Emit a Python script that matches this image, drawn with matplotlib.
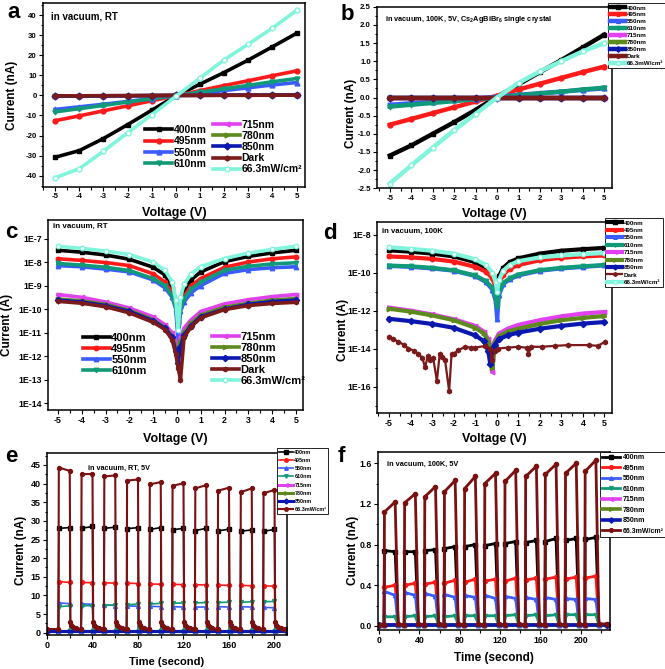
import numpy as np
import matplotlib
matplotlib.use('Agg')
import matplotlib.pyplot as plt
from matplotlib.ticker import MultipleLocator, FixedLocator, FuncFormatter, NullLocator, NullFormatter

plt.rcParams['font.family'] = ['Liberation Sans', 'DejaVu Sans']
plt.rcParams['font.weight'] = 'bold'
plt.rcParams['axes.labelweight'] = 'bold'
plt.rcParams['axes.unicode_minus'] = False
plt.rcParams['mathtext.fontset'] = 'custom'
plt.rcParams['mathtext.rm'] = 'Liberation Sans:bold'
plt.rcParams['mathtext.it'] = 'Liberation Sans:bold'
plt.rcParams['mathtext.default'] = 'rm'

# ---- series info ----
labels = ['400nm', '495nm', '550nm', '610nm', '715nm', '780nm', '850nm', 'Dark', '66.3mW/cm²']
colors = ['black', '#ff1a1a', '#3a5cff', '#109a78', '#e040f0', '#5d8a1c', '#0a18b0', '#7a1a1a', '#7ff5dc']
markers = ['s', 'o', '^', 'v', '<', '>', 'D', 'h', 'o']

# ---- (a) I-V, RT, nA ----
a_volt = [-5, -4, -3, -2, -1, 0, 1, 2, 3, 4, 5]
a_curr = [
    [-30.8, -27.5, -21.5, -14.6, -7.4, -0.3, 5.6, 11.4, 17.6, 24.2, 30.9],   # 400
    [-12.6, -10.2, -7.7, -5.2, -2.7, -0.2, 2.4, 4.9, 7.3, 9.8, 12.2],       # 495
    [-7.0, -5.7, -4.4, -3.0, -1.6, -0.2, 1.1, 2.4, 3.8, 5.2, 6.4],          # 550
    [-8.2, -6.6, -5.0, -3.3, -1.7, -0.1, 1.6, 3.3, 5.0, 6.8, 8.4],          # 610
    [-0.4, -0.35, -0.3, -0.2, -0.1, 0.0, 0.1, 0.15, 0.2, 0.25, 0.3],        # 715
    [-0.3, -0.3, -0.25, -0.2, -0.1, 0.0, 0.05, 0.1, 0.15, 0.2, 0.25],       # 780
    [-0.3, -0.25, -0.2, -0.15, -0.1, 0.0, 0.05, 0.1, 0.1, 0.15, 0.2],       # 850
    [-0.2, -0.2, -0.15, -0.1, -0.05, 0.0, 0.0, 0.05, 0.05, 0.1, 0.1],       # Dark
    [-41.0, -36.5, -27.8, -18.7, -9.6, -0.5, 8.6, 17.7, 25.5, 33.5, 42.3],  # 66.3
]

# ---- (b) I-V, 100K, nA ----
b_volt = [-5, -4, -3, -2, -1, 0, 1, 2, 3, 4, 5]
b_curr = [
    [-1.60, -1.32, -1.00, -0.68, -0.34, 0.02, 0.36, 0.70, 1.03, 1.38, 1.73],
    [-0.75, -0.59, -0.43, -0.27, -0.11, 0.05, 0.22, 0.38, 0.54, 0.70, 0.85],
    [-0.20, -0.16, -0.12, -0.07, -0.03, 0.02, 0.07, 0.12, 0.16, 0.21, 0.25],
    [-0.25, -0.20, -0.15, -0.10, -0.05, 0.00, 0.06, 0.11, 0.16, 0.22, 0.27],
    [0.0, 0.0, 0.0, 0.0, 0.0, 0.0, 0.0, 0.0, 0.0, 0.0, 0.0],
    [0.0, 0.0, 0.0, 0.0, 0.0, 0.0, 0.0, 0.0, 0.0, 0.0, 0.0],
    [0.0, 0.0, 0.0, 0.0, 0.0, 0.0, 0.0, 0.0, 0.0, 0.0, 0.0],
    [0.0, 0.0, 0.0, 0.0, 0.0, 0.0, 0.0, 0.0, 0.0, 0.0, 0.0],
    [-2.37, -1.87, -1.38, -0.90, -0.45, 0.00, 0.40, 0.72, 1.00, 1.27, 1.50],
]

# ---- (c) log|I|, RT (log10 of A) ----
c_volt = [-5, -4, -3, -2, -1, -0.5, -0.2, -0.05, 0.05, 0.15, 0.3, 0.6, 1, 2, 3, 4, 5]
c_log = [
    [-7.50, -7.58, -7.70, -7.88, -8.22, -8.55, -9.10, -9.60, -10.6, -9.70, -9.20, -8.75, -8.42, -7.98, -7.76, -7.61, -7.50],
    [-7.86, -7.93, -8.02, -8.15, -8.50, -8.85, -9.30, -9.80, -10.5, -9.90, -9.45, -9.00, -8.70, -8.22, -8.00, -7.86, -7.78],
    [-8.15, -8.20, -8.30, -8.42, -8.76, -9.10, -9.50, -10.0, -11.3, -10.1, -9.70, -9.30, -9.00, -8.48, -8.32, -8.24, -8.20],
    [-8.06, -8.13, -8.22, -8.36, -8.70, -9.00, -9.45, -9.90, -10.8, -10.0, -9.55, -9.15, -8.85, -8.35, -8.18, -8.08, -8.03],
    [-9.38, -9.50, -9.70, -9.95, -10.33, -10.66, -11.0, -11.4, -11.6, -11.2, -10.8, -10.45, -10.1, -9.78, -9.60, -9.47, -9.38],
    [-9.57, -9.65, -9.80, -10.05, -10.45, -10.78, -11.15, -11.6, -11.8, -11.4, -11.0, -10.6, -10.25, -9.92, -9.75, -9.62, -9.55],
    [-9.62, -9.70, -9.85, -10.10, -10.50, -10.82, -11.2, -11.8, -12.3, -11.6, -11.1, -10.7, -10.32, -10.0, -9.80, -9.68, -9.62],
    [-9.67, -9.75, -9.90, -10.16, -10.56, -10.87, -11.3, -11.9, -12.5, -13.0, -11.2, -10.75, -10.37, -10.02, -9.85, -9.76, -9.71],
    [-7.33, -7.42, -7.53, -7.68, -8.00, -8.35, -8.85, -9.60, -10.9, -9.50, -8.95, -8.50, -8.20, -7.85, -7.62, -7.46, -7.33],
]

# ---- (d) log|I|, 100K (log10 of A) ----
d_volt_hi = [-5, -4, -3, -2, -1, -0.5, -0.2, -0.05, 0.02, 0.1, 0.3, 0.6, 1, 2, 3, 4, 5]
d_volt_lo = [-5, -4, -3, -2, -1, -0.6, -0.4, -0.3, -0.2, -0.1, 0.1, 0.5, 1, 2, 3, 4, 5]
d_log = [
    [-8.83, -8.90, -9.00, -9.15, -9.45, -9.75, -10.1, -10.6, -11.0, -10.2, -9.75, -9.45, -9.25, -9.00, -8.85, -8.77, -8.70],
    [-9.15, -9.20, -9.28, -9.42, -9.70, -9.95, -10.3, -10.8, -11.3, -10.6, -10.1, -9.80, -9.60, -9.35, -9.22, -9.15, -9.10],
    [-9.65, -9.70, -9.78, -9.90, -10.18, -10.5, -10.9, -11.5, -12.45, -11.2, -10.6, -10.35, -10.15, -9.90, -9.78, -9.70, -9.62],
    [-9.63, -9.67, -9.75, -9.88, -10.15, -10.45, -10.8, -11.3, -11.8, -11.0, -10.55, -10.3, -10.1, -9.87, -9.75, -9.67, -9.60],
    [-11.84, -12.0, -12.2, -12.45, -12.8, -13.1, -13.5, -13.8, -15.2, -13.6, -13.2, -12.95, -12.75, -12.5, -12.3, -12.15, -12.07],
    [-11.9, -12.05, -12.25, -12.5, -12.9, -13.2, -13.6, -14.0, -15.0, -13.7, -13.35, -13.1, -12.95, -12.7, -12.5, -12.38, -12.28],
    [-12.43, -12.55, -12.7, -12.9, -13.3, -13.6, -14.1, -14.8, -14.0, -13.8, -13.5, -13.3, -13.15, -12.95, -12.8, -12.68, -12.6],
    None,
    [-8.67, -8.75, -8.85, -9.00, -9.30, -9.60, -10.0, -10.5, -11.0, -10.4, -9.90, -9.60, -9.40, -9.20, -9.10, -9.03, -8.97],
]
d_dark_volt = [-5, -4.8, -4.57, -4.3, -4.1, -3.85, -3.64, -3.45, -3.33, -3.2, -3.1, -2.95, -2.78, -2.65, -2.55,
               -2.4, -2.21, -2.1, -2.0, -1.78, -1.47, -1.2, -1.0, -0.54, -0.3, -0.23, -0.1, 0.08, 0.54,
               1.0, 1.4, 1.47, 1.6, 2.09, 2.7, 3.33, 4.26, 4.7, 5.03]
d_dark_log = [-13.36, -13.5, -13.63, -13.8, -13.99, -14.1, -14.26, -14.5, -14.97, -14.4, -14.62, -14.5, -15.69,
              -14.3, -14.44, -14.6, -16.23, -14.3, -14.26, -14.08, -13.9, -13.95, -13.94, -13.86, -14.0, -14.62,
              -14.1, -13.99, -13.94, -13.9, -13.95, -14.26, -13.9, -13.9, -13.85, -13.81, -13.81, -13.85, -13.63]

# ---- (e) on/off, RT, 5V, nA ----
e_labels = ['400nm', '495nm', '550nm', '610nm', '715nm', '780nm', '850nm', '66.3mW/cm²']
e_colors = ['black', '#ff1a1a', '#3a5cff', '#109a78', '#e040f0', '#5d8a1c', '#0a18b0', '#7a1010']
e_t_on = [10, 30, 50, 70, 90, 110, 130, 150, 170, 190]
e_t_off = [20, 40, 60, 80, 100, 120, 140, 160, 180, 200]
e_start = [
    [28.0, 28.0, 28.0, 27.9, 27.7, 27.6, 27.4, 27.3, 27.2, 27.2],
    [13.7, 13.5, 13.4, 13.3, 13.1, 13.0, 12.9, 12.8, 12.7, 12.6],
    [8.0, 7.8, 7.5, 7.2, 7.1, 7.0, 6.9, 7.0, 7.0, 6.8],
    [7.0, 7.2, 7.3, 7.5, 7.7, 7.9, 8.0, 8.1, 8.2, 8.3],
]
e_end = [
    [28.2, 28.5, 28.3, 28.2, 28.2, 28.0, 28.0, 27.8, 27.6, 27.7],
    [13.5, 13.4, 13.3, 13.2, 13.0, 12.9, 12.8, 12.7, 12.6, 12.5],
    [7.8, 7.6, 7.3, 7.1, 7.0, 6.9, 6.9, 6.9, 6.9, 6.7],
    [7.2, 7.3, 7.5, 7.7, 7.9, 8.0, 8.1, 8.2, 8.3, 8.4],
]
e_base = [0.6, 0.6, 0.4, 0.5]
e_flat_t = [0, 211]
e_flat = [[0.6, 0.6], [0.5, 0.5], [0.4, 0.4]]   # 715, 780, 850
e_white_start = [44.3, 42.5, 41.9, 40.8, 39.8, 39.4, 38.7, 38.1, 37.7, 37.4]
e_white_end = [43.4, 42.6, 42.2, 41.1, 40.4, 40.1, 39.6, 38.9, 38.7, 38.3]
e_white_base = 1.0
e_tail_dt = [0.6, 1.5, 3, 5.5, 9.5]
e_tail_i = [3.0, 2.1, 1.5, 1.2, 1.0]

# ---- (f) on/off, 100K, 5V, nA ----
f_t_on = [5, 25, 45, 64.5, 84.5, 104.5, 124.5, 145, 164.5, 184.5, 204]
f_t_off = [16, 36, 56, 75.5, 95.5, 115.5, 135.5, 156, 175.5, 195.5, 215]
f_start = [
    [0.74, 0.73, 0.74, 0.76, 0.78, 0.79, 0.81, 0.82, 0.83, 0.84, 0.85],
    [0.38, 0.40, 0.41, 0.42, 0.43, 0.44, 0.44, 0.45, 0.46, 0.46, 0.47],
    [0.34, 0.33, 0.32, 0.31, 0.30, 0.30, 0.29, 0.28, 0.28, 0.27, 0.27],
    [0.09, 0.09, 0.09, 0.09, 0.10, 0.10, 0.10, 0.10, 0.10, 0.11, 0.11],
]
f_end = [
    [0.73, 0.73, 0.75, 0.78, 0.80, 0.81, 0.83, 0.84, 0.86, 0.86, 0.87],
    [0.40, 0.42, 0.43, 0.45, 0.46, 0.46, 0.47, 0.47, 0.48, 0.48, 0.49],
    [0.30, 0.30, 0.29, 0.28, 0.28, 0.27, 0.27, 0.26, 0.26, 0.26, 0.26],
    [0.09, 0.10, 0.10, 0.10, 0.10, 0.10, 0.11, 0.11, 0.11, 0.11, 0.11],
]
f_flat_t = [0, 226]
f_flat = [[0.012, 0.012], [0.01, 0.01], [0.008, 0.008]]
f_white_start = [1.12, 1.21, 1.27, 1.32, 1.35, 1.40, 1.42, 1.47, 1.49, 1.50, 1.52]
f_white_end = [1.22, 1.30, 1.37, 1.43, 1.47, 1.50, 1.53, 1.57, 1.59, 1.60, 1.63]
f_base = 0.01
f_tail_dt = [3.0]
f_tail_i = [0.02]


def px(x):
    return x / 665.0


def py(y):
    return 1 - y / 669.0


def rect(l, t, r, b):
    return [px(l), py(b), px(r) - px(l), (b - t) / 669.0]


def pulse_train(t_on, t_off, top0, top1, base, tail_dt, tail_i, t_stop):
    t, y = [0.0], [base]
    for k in range(len(t_on)):
        t += [t_on[k], t_on[k] + 0.4, t_off[k]]
        y += [base, top0[k], top1[k]]
        for dt, v in zip(tail_dt, tail_i):
            t.append(t_off[k] + dt)
            y.append(v)
    t.append(t_stop)
    y.append(y[-1])
    return t, y


def style(ax, lsize=5.5):
    for s in ax.spines.values():
        s.set_linewidth(1.1)
    ax.tick_params(which='both', direction='out', top=False, right=False,
                   labelsize=lsize, width=0.8, pad=1.5)
    ax.tick_params(which='major', length=3)
    ax.tick_params(which='minor', length=1.8)


def log_fmt(v, p):
    return '1E%d' % int(round(np.log10(v)))


fig = plt.figure(figsize=(6.65, 6.69), dpi=100)

# ================= a =================
ax = fig.add_axes(rect(43, 3, 305, 187))
h = []
for k in range(9):
    mfc = 'white' if k == 8 else colors[k]
    ln, = ax.plot(a_volt, a_curr[k], color=colors[k], lw=2.6, marker=markers[k],
                  ms=3.5, mfc=mfc, mec=colors[k])
    h.append(ln)
ax.set_xlim(-5.5, 5.35)
ax.set_ylim(-45.6, 46)
ax.xaxis.set_major_locator(MultipleLocator(1))
ax.xaxis.set_minor_locator(MultipleLocator(0.5))
ax.yaxis.set_major_locator(MultipleLocator(10))
ax.yaxis.set_minor_locator(MultipleLocator(5))
style(ax, 5.6)
ax.set_xlabel('Voltage (V)', fontsize=9)
ax.set_ylabel('Current (nA)', fontsize=8.5)
ax.xaxis.set_label_coords(0.5, -0.11)
ax.yaxis.set_label_coords(-0.095, 0.5)
ax.text(0.03, 0.955, 'in vacuum, RT', transform=ax.transAxes, fontsize=7, va='top')
kw = dict(loc='center left', bbox_transform=fig.transFigure, frameon=False, fontsize=7.5,
          handlelength=2.6, handletextpad=0.15, labelspacing=0.12, borderpad=0, borderaxespad=0)
leg = ax.legend(h[:4], labels[:4], bbox_to_anchor=(px(145), py(147)), **kw)
ax.add_artist(leg)
ax.legend(h[4:], labels[4:], bbox_to_anchor=(px(213), py(147)), **kw)

# ================= b =================
ax = fig.add_axes(rect(377, 6.7, 612, 188.3))
h = []
for k in range(9):
    mfc = 'white' if k == 8 else colors[k]
    ln, = ax.plot(b_volt, b_curr[k], color=colors[k], lw=3.2, marker=markers[k],
                  ms=3.5, mfc=mfc, mec=colors[k])
    h.append(ln)
ax.set_xlim(-5.6, 5.36)
ax.set_ylim(-2.5, 2.5)
ax.xaxis.set_major_locator(MultipleLocator(1))
ax.xaxis.set_minor_locator(MultipleLocator(0.5))
ax.yaxis.set_major_locator(MultipleLocator(0.5))
ax.yaxis.set_minor_locator(MultipleLocator(0.25))
ax.yaxis.set_major_formatter(FuncFormatter(lambda v, p: '%.1f' % v))
style(ax, 5.6)
ax.set_xlabel('Voltage (V)', fontsize=9)
ax.set_ylabel('Current (nA)', fontsize=8.5)
ax.xaxis.set_label_coords(0.5, -0.108)
ax.yaxis.set_label_coords(-0.085, 0.41)
ax.text(0.035, 0.96, 'in vacuum, 100K, 5V, Cs$_2$AgBiBr$_6$ single crystal',
        transform=ax.transAxes, fontsize=5.3, va='top')
leg = ax.legend(h, labels, loc='upper left', bbox_to_anchor=(px(608), py(3)),
                bbox_transform=fig.transFigure, fontsize=4.5, fancybox=False,
                edgecolor='black', framealpha=1, handlelength=2.4, handletextpad=0.3,
                labelspacing=0.25, borderpad=0.35, borderaxespad=0, markerscale=0.8)
leg.get_frame().set_linewidth(0.6)

# ================= c =================
ax = fig.add_axes(rect(48, 219.5, 303, 410))
h = []
for k in range(9):
    mfc = 'white' if k == 8 else colors[k]
    ln, = ax.semilogy(c_volt, 10.0 ** np.array(c_log[k]), color=colors[k], lw=2.6,
                      marker=markers[k], ms=3.2, mfc=mfc, mec=colors[k])
    h.append(ln)
ax.set_xlim(-5.42, 5.3)
ax.set_ylim(10 ** -14.29, 10 ** -6.19)
ax.xaxis.set_major_locator(MultipleLocator(1))
ax.xaxis.set_minor_locator(MultipleLocator(0.5))
ax.yaxis.set_major_locator(FixedLocator([10.0 ** e for e in range(-14, -6)]))
ax.yaxis.set_minor_locator(NullLocator())
ax.yaxis.set_major_formatter(FuncFormatter(log_fmt))
style(ax, 6.3)
ax.set_xlabel('Voltage (V)', fontsize=9)
ax.set_ylabel('Current (A)', fontsize=8.5)
ax.xaxis.set_label_coords(0.5, -0.12)
ax.yaxis.set_label_coords(-0.139, 0.446)
ax.text(0.02, 0.985, 'in vacuum, RT', transform=ax.transAxes, fontsize=5.8, va='top')
kw = dict(loc='center left', bbox_transform=fig.transFigure, frameon=False, fontsize=8,
          handlelength=2.4, handletextpad=0.15, labelspacing=0.1, borderpad=0, borderaxespad=0)
leg = ax.legend(h[:4], labels[:4], bbox_to_anchor=(px(83), py(354.5)), **kw)
ax.add_artist(leg)
ax.legend(h[4:], labels[4:], bbox_to_anchor=(px(212), py(359)), **kw)

# ================= d =================
ax = fig.add_axes(rect(377, 222, 612, 413))
h = []
for k in range(9):
    mfc = 'white' if k == 8 else colors[k]
    if labels[k] == 'Dark':
        vv, ll, lw = d_dark_volt, d_dark_log, 1.6
    elif labels[k] in ('715nm', '780nm', '850nm'):
        vv, ll, lw = d_volt_lo, d_log[k], 3.0
    else:
        vv, ll, lw = d_volt_hi, d_log[k], 3.0
    ln, = ax.semilogy(vv, 10.0 ** np.array(ll), color=colors[k], lw=lw,
                      marker=markers[k], ms=3.2, mfc=mfc, mec=colors[k])
    h.append(ln)
ax.set_xlim(-5.56, 5.35)
ax.set_ylim(10 ** -17.38, 10 ** -7.34)
ax.xaxis.set_major_locator(MultipleLocator(1))
ax.xaxis.set_minor_locator(MultipleLocator(0.5))
ax.yaxis.set_major_locator(FixedLocator([10.0 ** e for e in range(-16, -7, 2)]))
ax.yaxis.set_minor_locator(FixedLocator([10.0 ** e for e in range(-17, -7, 2)]))
ax.yaxis.set_major_formatter(FuncFormatter(log_fmt))
ax.yaxis.set_minor_formatter(NullFormatter())
style(ax, 6.3)
ax.set_xlabel('Voltage (V)', fontsize=9)
ax.set_ylabel('Current (A)', fontsize=8.5)
ax.xaxis.set_label_coords(0.5, -0.105)
ax.yaxis.set_label_coords(-0.121, 0.435)
ax.text(0.02, 0.97, 'in vacuum, 100K', transform=ax.transAxes, fontsize=5.6, va='top')
leg = ax.legend(h, labels, loc='upper left', bbox_to_anchor=(px(605), py(218)),
                bbox_transform=fig.transFigure, fontsize=4.5, fancybox=False,
                edgecolor='black', framealpha=1, handlelength=2.4, handletextpad=0.3,
                labelspacing=0.33, borderpad=0.35, borderaxespad=0, markerscale=0.8)
leg.get_frame().set_linewidth(0.6)

# ================= e =================
ax = fig.add_axes(rect(47, 453, 287, 635))
h = []
for k in range(4):
    t, y = pulse_train(e_t_on, e_t_off, e_start[k], e_end[k], e_base[k],
                       [0.5], [e_base[k]], 211)
    ln, = ax.plot(t, y, color=e_colors[k], lw=1.2, marker=markers[k], ms=2.8)
    h.append(ln)
for k in range(3):
    ln, = ax.plot(e_flat_t, e_flat[k], color=e_colors[4 + k], lw=2.2, marker=markers[4 + k], ms=2.8)
    h.append(ln)
t, y = pulse_train(e_t_on, e_t_off, e_white_start, e_white_end, e_white_base,
                   e_tail_dt, e_tail_i, 211)
ln, = ax.plot(t, y, color=e_colors[7], lw=1.5, marker='o', ms=2.8)
h.append(ln)
ax.set_xlim(0, 211)
ax.set_ylim(-0.6, 48.2)
ax.xaxis.set_major_locator(MultipleLocator(40))
ax.xaxis.set_minor_locator(MultipleLocator(20))
ax.yaxis.set_major_locator(MultipleLocator(5))
ax.yaxis.set_minor_locator(MultipleLocator(2.5))
style(ax, 6.5)
ax.set_xlabel('Time (second)', fontsize=8)
ax.set_ylabel('Current (nA)', fontsize=8.5)
ax.xaxis.set_label_coords(0.5, -0.121)
ax.yaxis.set_label_coords(-0.083, 0.467)
ax.text(0.17, 0.935, 'in vacuum, RT, 5V', transform=ax.transAxes, fontsize=5.2, va='top')
leg = ax.legend(h, e_labels, loc='upper left', bbox_to_anchor=(px(277), py(448)),
                bbox_transform=fig.transFigure, fontsize=3.9, fancybox=False,
                edgecolor='black', framealpha=1, handlelength=2.6, handletextpad=0.3,
                labelspacing=0.6, borderpad=0.3, borderaxespad=0, markerscale=0.9)
leg.get_frame().set_linewidth(0.6)

# ================= f =================
ax = fig.add_axes(rect(378, 452, 610, 630))
h = []
for k in range(4):
    t, y = pulse_train(f_t_on, f_t_off, f_start[k], f_end[k], f_base,
                       f_tail_dt, [f_base], 226)
    ln, = ax.plot(t, y, color=e_colors[k], lw=2.0, marker=markers[k], ms=3.0)
    h.append(ln)
for k in range(3):
    ln, = ax.plot(f_flat_t, f_flat[k], color=e_colors[4 + k], lw=2.6, marker=markers[4 + k], ms=3.0)
    h.append(ln)
t, y = pulse_train(f_t_on, f_t_off, f_white_start, f_white_end, f_base,
                   f_tail_dt, f_tail_i, 226)
ln, = ax.plot(t, y, color=e_colors[7], lw=2.0, marker='o', ms=3.0)
h.append(ln)
ax.set_xlim(-1, 229)
ax.set_ylim(-0.04, 1.71)
ax.xaxis.set_major_locator(MultipleLocator(40))
ax.xaxis.set_minor_locator(MultipleLocator(20))
ax.yaxis.set_major_locator(MultipleLocator(0.4))
ax.yaxis.set_minor_locator(MultipleLocator(0.2))
ax.yaxis.set_major_formatter(FuncFormatter(lambda v, p: '%.1f' % v))
style(ax, 6.3)
ax.set_xlabel('Time (second)', fontsize=8.5)
ax.set_ylabel('Current (nA)', fontsize=8.5)
ax.xaxis.set_label_coords(0.5, -0.124)
ax.yaxis.set_label_coords(-0.084, 0.449)
ax.text(0.04, 0.95, 'in vacuum, 100K, 5V', transform=ax.transAxes, fontsize=5.3, va='top')
leg = ax.legend(h, e_labels, loc='upper left', bbox_to_anchor=(px(600), py(452)),
                bbox_transform=fig.transFigure, fontsize=5.0, fancybox=False,
                edgecolor='black', framealpha=1, handlelength=2.6, handletextpad=0.3,
                labelspacing=0.5, borderpad=0.35, borderaxespad=0, markerscale=0.9)
leg.get_frame().set_linewidth(0.6)

# panel letters
for letter, x, y in [('a', 14, 13), ('b', 347, 14), ('c', 11, 232),
                     ('d', 330, 233), ('e', 11, 457), ('f', 341, 457)]:
    fig.text(px(x), py(y), letter, fontsize=16, fontweight='bold', ha='center', va='center')

fig.savefig('out.png', dpi=100)
